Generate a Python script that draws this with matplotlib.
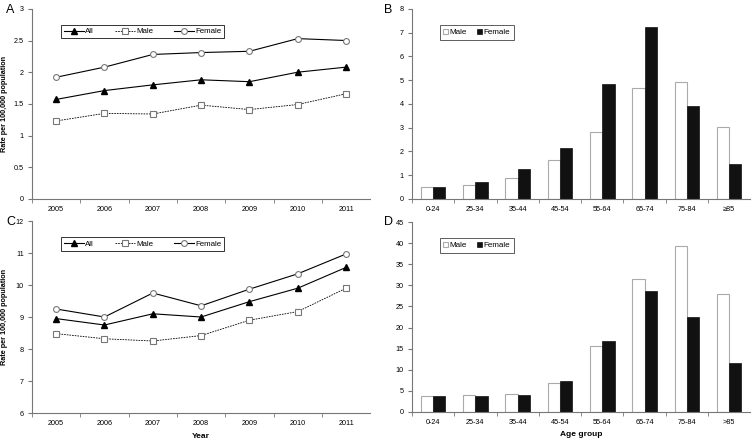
import numpy as np
import matplotlib
matplotlib.use('Agg')
import matplotlib.pyplot as plt

plt.rcParams['font.family'] = ['Liberation Sans', 'DejaVu Sans']

years = ['2005', '2006', '2007', '2008', '2009', '2010', '2011']
a_all = [1.57, 1.71, 1.80, 1.88, 1.85, 2.00, 2.08]
a_male = [1.23, 1.35, 1.34, 1.48, 1.41, 1.49, 1.66]
a_female = [1.92, 2.08, 2.28, 2.31, 2.33, 2.53, 2.50]

c_all = [8.95, 8.75, 9.10, 9.00, 9.48, 9.90, 10.55]
c_male = [8.48, 8.32, 8.25, 8.42, 8.90, 9.17, 9.90]
c_female = [9.25, 9.00, 9.75, 9.35, 9.87, 10.35, 10.97]

ages_b = ['0-24', '25-34', '35-44', '45-54', '55-64', '65-74', '75-84', '≥85']
b_male = [0.50, 0.57, 0.90, 1.62, 2.82, 4.65, 4.92, 3.02]
b_female = [0.50, 0.70, 1.25, 2.15, 4.85, 7.22, 3.92, 1.48]

ages_d = ['0-24', '25-34', '35-44', '45-54', '55-64', '65-74', '75-84', '>85']
d_male = [3.7, 4.0, 4.2, 6.8, 15.7, 31.5, 39.3, 27.9]
d_female = [3.8, 3.8, 4.1, 7.4, 16.8, 28.6, 22.4, 11.6]

fig = plt.figure(figsize=(7.55, 4.42), dpi=100)
axA = fig.add_axes([0.0424, 0.550, 0.448, 0.430])
axB = fig.add_axes([0.5457, 0.550, 0.448, 0.430])
axC = fig.add_axes([0.0424, 0.0656, 0.448, 0.4344])
axD = fig.add_axes([0.5457, 0.0679, 0.448, 0.4298])

spine_col = '#777777'
tick_fs = 5.2


def style(ax, n):
    for s in ['top', 'right']:
        ax.spines[s].set_visible(False)
    for s in ['left', 'bottom']:
        ax.spines[s].set_color(spine_col)
        ax.spines[s].set_linewidth(0.8)
    ax.set_xlim(-0.5, n - 0.5)
    ax.set_xticks(np.arange(n) - 0.5, minor=True)
    ax.set_xticks(np.arange(n))
    ax.tick_params(axis='x', which='major', length=0, labelsize=tick_fs, pad=5)
    ax.tick_params(axis='x', which='minor', length=3, color=spine_col)
    ax.tick_params(axis='y', length=3, color=spine_col, labelsize=tick_fs, pad=3)


def line_panel(ax, all_, male, female, ylim, yticks, ylabels):
    x = np.arange(len(years))
    ax.plot(x, all_, '-', color='black', lw=0.8, marker='^', ms=3.8,
            mfc='black', mec='black', label='All')
    ax.plot(x, male, '--', color='black', lw=0.6, dashes=(2, 1.2), marker='s', ms=4,
            mfc='white', mec='#777777', mew=0.8, label='Male')
    ax.plot(x, female, '-', color='black', lw=0.8, marker='o', ms=4.2,
            mfc='white', mec='#777777', mew=0.8, label='Female')
    style(ax, len(years))
    ax.set_xticklabels(years)
    ax.set_ylim(*ylim)
    ax.set_yticks(yticks)
    ax.set_yticklabels(ylabels)
    ax.set_ylabel('Rate per 100,000 population', fontsize=5.2, fontweight='bold')
    ax.yaxis.set_label_coords(-0.072, 0.5)
    leg = ax.legend(loc='upper left', bbox_to_anchor=(0.075, 0.935), ncol=3, fontsize=5.7,
                    frameon=True, fancybox=False, edgecolor='black', handlelength=2.5,
                    handletextpad=0.2, columnspacing=2.6, borderpad=0.35)
    leg.get_frame().set_linewidth(0.7)


def bar_panel(ax, labels, male, female, ylim, yticks):
    x = np.arange(len(labels))
    w = 0.29
    ax.bar(x - w / 2, male, w, color='white', edgecolor='#aaaaaa', lw=0.8, label='Male')
    ax.bar(x + w / 2, female, w, color='#111111', edgecolor='#111111', lw=0.5, label='Female')
    style(ax, len(labels))
    ax.set_xticklabels(labels)
    ax.set_ylim(*ylim)
    ax.set_yticks(yticks)
    leg = ax.legend(loc='upper left', bbox_to_anchor=(0.07, 0.935), ncol=2, fontsize=5.8,
                    frameon=True, fancybox=False, edgecolor='#333333', handlelength=0.6,
                    handleheight=0.6, handletextpad=0.2, columnspacing=1.2, borderpad=0.45)
    leg.get_frame().set_linewidth(0.7)


line_panel(axA, a_all, a_male, a_female, (0, 3), np.arange(0, 3.01, 0.5),
           ['0', '0.5', '1', '1.5', '2', '2.5', '3'])
line_panel(axC, c_all, c_male, c_female, (6, 12), np.arange(6, 13, 1),
           [str(v) for v in range(6, 13)])
axC.set_xlabel('Year', fontsize=6, fontweight='bold', labelpad=4)

bar_panel(axB, ages_b, b_male, b_female, (0, 8), np.arange(0, 9, 1))
bar_panel(axD, ages_d, d_male, d_female, (0, 45), np.arange(0, 46, 5))
axD.set_xlabel('Age group', fontsize=6, fontweight='bold', labelpad=4)

for lab, x, y in [('A', 0.008, 0.978), ('B', 0.508, 0.978), ('C', 0.008, 0.497), ('D', 0.508, 0.497)]:
    fig.text(x, y, lab, fontsize=9, va='center')

fig.savefig('out.png', dpi=100)
